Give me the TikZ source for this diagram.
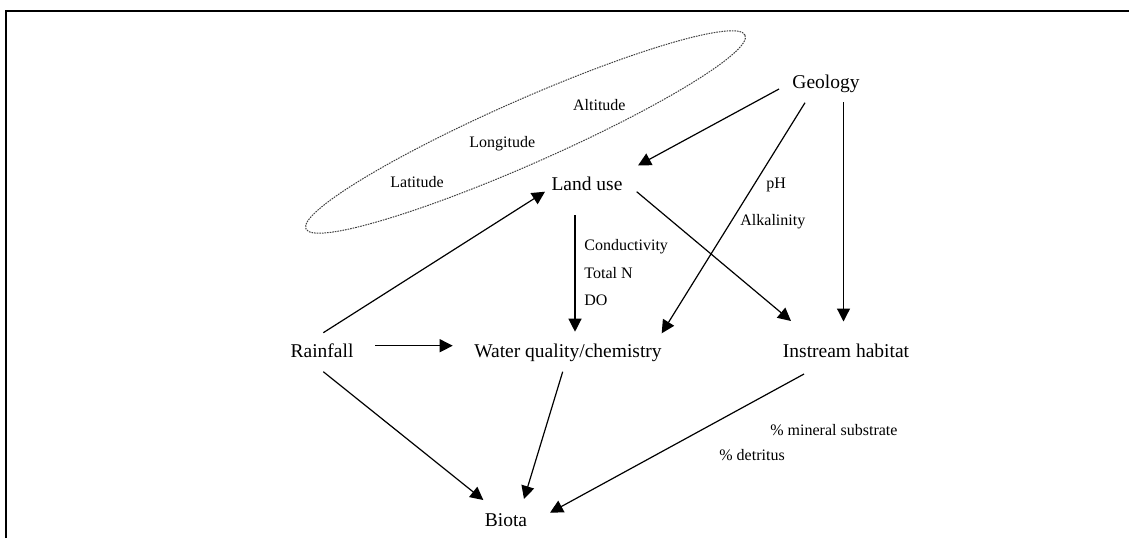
\documentclass[tikz,border=0pt]{standalone}
\usepackage{fontspec}
\setmainfont{Liberation Serif}
\usetikzlibrary{arrows.meta,calc}
\begin{document}
\begin{tikzpicture}[x=0.5pt,y=-0.5pt,
  main/.style={inner sep=0pt,anchor=base,font=\fontsize{9.75}{11}\selectfont},
  small/.style={inner sep=0pt,anchor=base west,font=\fontsize{8}{10}\selectfont},
  arr/.style={line width=0.6pt,-{Triangle[length=6.5pt,width=6.5pt]}},
  frame/.style={line width=1pt},
  ell/.style={line width=0.5pt,black!75,dash pattern=on 0.8pt off 0.5pt}]
\useasboundingbox (0,0) rectangle (1129,538);
\draw[frame] (6,538) -- (6,11) -- (1129,11);
% location ellipse
\draw[ell,rotate around={23.8:(525.5,132)}] (525.5,132) ellipse [x radius=120pt, y radius=16pt];
% main nodes
\node[main] (geo) at (826,88) {Geology};
\node[main] (lu) at (587,190) {Land use};
\node[main] (rain) at (322,357) {Rainfall};
\node[main] (wq) at (568,357) {Water quality/chemistry};
\node[main] (ih) at (846,357) {Instream habitat};
\node[main] (bio) at (506,526) {Biota};
% small labels
\node[small] (alt) at (572.7,110.5) {Altitude};
\node[small] (lon) at (469,147) {Longitude};
\node[small] (lat) at (390,187) {Latitude};
\node[small] (ph) at (766,188) {pH};
\node[small] (alk) at (740,225) {Alkalinity};
\node[small] (cond) at (584,250) {Conductivity};
\node[small] (totn) at (584,278) {Total N};
\node[small] (do) at (584,305) {DO};
\node[small] (mins) at (770,435) {\% mineral substrate};
\node[small] (detr) at (719,460) {\% detritus};
% connectors
\draw[arr] ($(geo.base)+(-47,1)$) -- ($(lu.base)+(51,-24.5)$);
\draw[arr] ($(geo.base)+(-21,14.7)$) -- ($(wq.base)+(93.7,-23.7)$);
\draw[arr] ($(geo.base)+(17.5,14)$) -- ($(ih.base)+(-2.5,-35.5)$);
\draw[arr] ($(lu.base)+(-12,25)$) -- ($(wq.base)+(7,-25.3)$);
\draw[arr] ($(lu.base)+(49.7,1.7)$) -- ($(ih.base)+(-55,-36)$);
\draw[arr] ($(rain.base)+(1.3,-24.3)$) -- ($(lu.base)+(-42,1.7)$);
\draw[arr] ($(rain.base)+(53,-11.3)$) -- ($(wq.base)+(-115.3,-11.3)$);
\draw[arr] ($(rain.base)+(1.3,14.7)$) -- ($(bio.base)+(-22.7,-26)$);
\draw[arr] ($(wq.base)+(-5.3,14.7)$) -- ($(bio.base)+(18,-27)$);
\draw[arr] ($(ih.base)+(-42,17)$) -- ($(bio.base)+(44,-13.3)$);
\end{tikzpicture}
\end{document}
